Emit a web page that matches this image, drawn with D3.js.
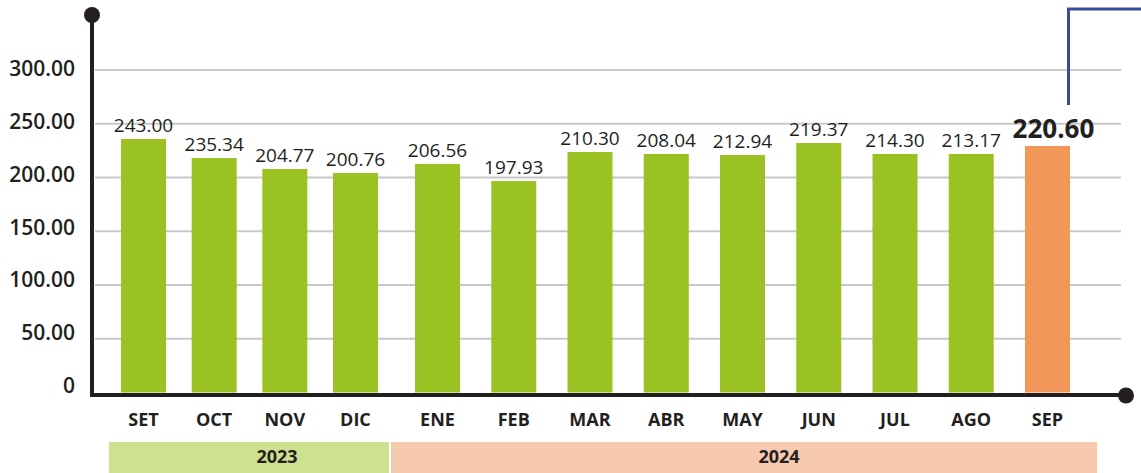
<!DOCTYPE html>
<html><head><meta charset="utf-8">
<script src="https://cdn.jsdelivr.net/npm/d3@7"></script>
<style>body{margin:0;background:#fff}svg{display:block}</style>
</head><body>
<svg id="c" width="1141" height="473"></svg>
<script>
const months = ["SET","OCT","NOV","DIC","ENE","FEB","MAR","ABR","MAY","JUN","JUL","AGO","SEP"];
const monthYear = ["2023","2023","2023","2023","2024","2024","2024","2024","2024","2024","2024","2024","2024"];
const labelValues = [243.00,235.34,204.77,200.76,206.56,197.93,210.30,208.04,212.94,219.37,214.30,213.17,220.60];
const plottedValues = [235.8,218.1,207.9,204.2,212.6,196.7,223.7,221.9,220.9,232.1,221.9,221.9,229.3];
const yTicks = [0,50,100,150,200,250,300];
const yTickLabels = ["0","50.00","100.00","150.00","200.00","250.00","300.00"];
const years = ["2023","2024"];

const svg = d3.select("#c");
const ink = "#231f20";
const font = "'Open Sans', sans-serif";

// one band scale per year group
const groupRange = {"2023":[108.2,390.8], "2024":[399.4,1085.6]};
const xs = {};
years.forEach(yr=>{
  const dom = months.filter((m,i)=>monthYear[i]===yr);
  const w = groupRange[yr][1]-groupRange[yr][0];
  const step = w/dom.length;
  const pi = 1-45/step;
  xs[yr] = d3.scaleBand().domain(dom).range(groupRange[yr]).paddingInner(pi).paddingOuter(pi/2);
});
const bx = (d,i)=>xs[monthYear[i]](d);
const bw = (i)=>xs[monthYear[i]].bandwidth();
const cx = (d,i)=>bx(d,i)+bw(i)/2;

const y = d3.scaleLinear().domain([0,300]).range([392.5,70]);
const yLab = d3.scaleLinear().domain([0,300]).range([393,76]);

// gridlines
svg.append("g").selectAll("line").data(yTicks.filter(d=>d>0)).join("line")
  .attr("x1",95).attr("x2",1121).attr("y1",d=>y(d)).attr("y2",d=>y(d))
  .attr("stroke","#c8c8c8").attr("stroke-width",2);

// y tick labels
svg.append("g").selectAll("text").data(yTicks).join("text")
  .attr("x",75).attr("y",d=>yLab(d)).attr("text-anchor","end")
  .attr("font-family",font).attr("font-weight",600).attr("font-size",21).attr("fill",ink)
  .text((d,i)=>yTickLabels[i]);

// bars
const last = months.length-1;
svg.append("g").selectAll("rect").data(months).join("rect")
  .attr("x",bx).attr("width",(d,i)=>bw(i))
  .attr("y",(d,i)=>y(plottedValues[i])).attr("height",(d,i)=>y(0)-y(plottedValues[i]))
  .attr("fill",(d,i)=>i===last?"#f3965a":"#9ac223");

// value labels
svg.append("g").selectAll("text").data(months).join("text")
  .attr("x",(d,i)=>cx(d,i) + (i===last?6:0))
  .attr("y",(d,i)=>y(plottedValues[i]) - (i===last?8:7))
  .attr("text-anchor","middle").attr("font-family",font)
  .attr("font-weight",(d,i)=>i===last?700:400)
  .attr("font-size",(d,i)=>i===last?26:19).attr("fill",ink)
  .text((d,i)=>labelValues[i].toFixed(2));

// axes
svg.append("line").attr("x1",92).attr("x2",92).attr("y1",15).attr("y2",397).attr("stroke",ink).attr("stroke-width",4);
svg.append("line").attr("x1",90).attr("x2",1126).attr("y1",395).attr("y2",395).attr("stroke",ink).attr("stroke-width",4);
svg.append("circle").attr("cx",92).attr("cy",15).attr("r",8).attr("fill",ink);
svg.append("circle").attr("cx",1126).attr("cy",395.5).attr("r",8).attr("fill",ink);

// month labels
svg.append("g").selectAll("text").data(months).join("text")
  .attr("x",cx).attr("y",426)
  .attr("text-anchor","middle").attr("font-family",font).attr("font-weight",700)
  .attr("font-size",18).attr("fill",ink).text(d=>d);

// year boxes
const boxL = [109, 391];
const boxR = [389, 1097];
const boxFill = ["#cfe090","#f7c9ae"];
const txtOff = [28,35];
years.forEach((yr,i)=>{
  svg.append("rect").attr("x",boxL[i]).attr("y",442).attr("width",boxR[i]-boxL[i]).attr("height",40).attr("fill",boxFill[i]);
  svg.append("text").attr("x",(boxL[i]+boxR[i])/2+txtOff[i]).attr("y",463)
    .attr("text-anchor","middle").attr("font-family",font).attr("font-weight",700)
    .attr("font-size",18).attr("fill",ink).text(yr);
});

// blue bracket
svg.append("path").attr("d","M1068.5,105 L1068.5,9 L1141,9").attr("fill","none")
  .attr("stroke","#3a4a9c").attr("stroke-width",3);
</script>
</body></html>
